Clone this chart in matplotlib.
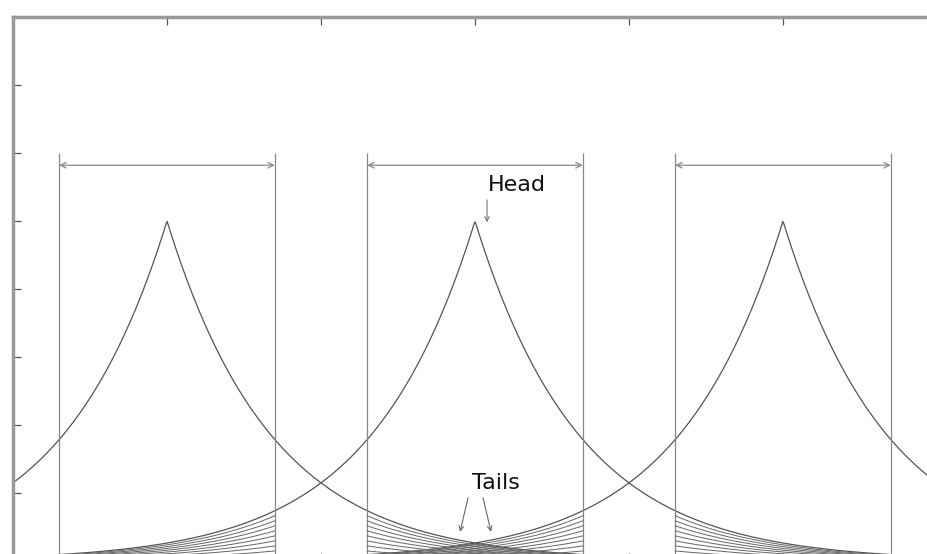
import numpy as np
import matplotlib.pyplot as plt

# pulse centres, peak height and decay constant
peaks = [1.0, 3.0, 5.0]
peak_height = 5.0
decay = 0.68
# half width of the window drawn around each pulse
half_width = 0.7
window_top = 6.0
arrow_y = 5.82
# scale factors for the neighbour tails drawn inside each window
tail_scales = [0.9, 0.8, 0.7, 0.6, 0.5, 0.4, 0.3, 0.2, 0.1]

line_col = '#555555'

fig = plt.figure(figsize=(9.28, 5.54), dpi=100)
ax = fig.add_axes([13 / 928, -7 / 554, 924 / 928, 544 / 554])
ax.set_xlim(0, 6)
ax.set_ylim(0, 8)


def pulse(x, p, k=1.0):
    return k * peak_height * np.exp(-np.abs(x - p) / decay)


xs = np.linspace(0, 6, 1200)
for p in peaks:
    ax.plot(xs, pulse(xs, p), color=line_col, lw=0.9)

for i, p in enumerate(peaks):
    lo, hi = p - half_width, p + half_width
    ax.vlines([lo, hi], 0, window_top, color='#888888', lw=0.9)
    ax.annotate('', xy=(lo, arrow_y), xytext=(hi, arrow_y),
                arrowprops=dict(arrowstyle='<->', color='#888888', lw=0.9,
                                shrinkA=0, shrinkB=0,
                                mutation_scale=10))
    # tails of the neighbouring pulses inside this window
    xw = np.linspace(lo, hi, 300)
    for j in (i - 1, i + 1):
        if 0 <= j < len(peaks):
            for k in tail_scales:
                ax.plot(xw, pulse(xw, peaks[j], k), color='#666666', lw=0.7)

ax.text(3.27, 5.53, 'Head', ha='center', va='center', fontsize=16,
        family='DejaVu Sans', color='#111111')
ax.annotate('', xy=(3.078, 4.98), xytext=(3.078, 5.31),
            arrowprops=dict(arrowstyle='->', color='#777777', lw=0.8,
                            shrinkA=0, shrinkB=0, mutation_scale=8))

ax.text(3.136, 1.15, 'Tails', ha='center', va='center', fontsize=16,
        family='DejaVu Sans', color='#111111')
for x0, x1 in [(2.955, 2.903), (3.052, 3.104)]:
    ax.annotate('', xy=(x1, 0.43), xytext=(x0, 0.93),
                arrowprops=dict(arrowstyle='->', color='#666666', lw=0.8,
                                shrinkA=0, shrinkB=0, mutation_scale=8))

ax.set_xticks([1, 2, 3, 4, 5])
ax.set_yticks([1, 2, 3, 4, 5, 6, 7])
ax.tick_params(direction='in', length=6, width=0.9, color='#555555',
               top=True, right=True, labelbottom=False, labelleft=False)
for s in ax.spines.values():
    s.set_color('#999999')
    s.set_linewidth(2.5)

fig.savefig('out.png', dpi=100)
